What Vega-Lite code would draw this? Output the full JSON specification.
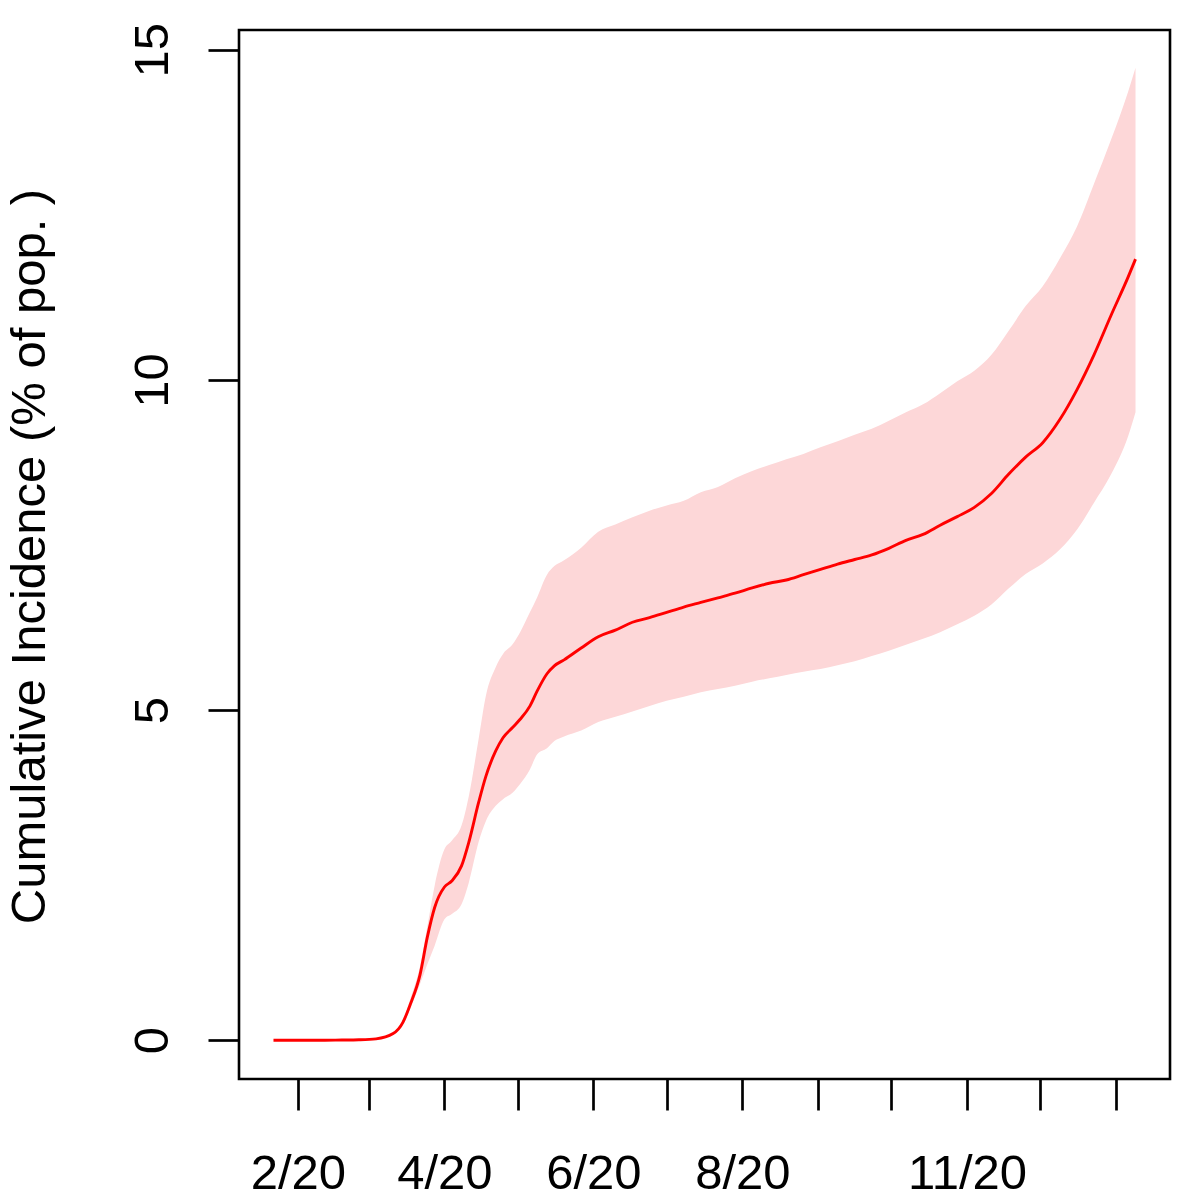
{
  "$schema": "https://vega.github.io/schema/vega-lite/v6.json",
  "width": 931,
  "height": 1049,
  "autosize": {"type": "none"},
  "padding": {"left": 239, "top": 30, "right": 30, "bottom": 121},
  "background": "white",
  "config": {
    "view": {"stroke": "black", "strokeWidth": 2.6},
    "font": "Liberation Sans"
  },
  "data": {
    "values": [
      {"date": "2020-01-22", "mid": 0, "lo": 0, "hi": 0},
      {"date": "2020-01-29", "mid": 0, "lo": 0, "hi": 0},
      {"date": "2020-02-05", "mid": 0, "lo": 0, "hi": 0},
      {"date": "2020-02-12", "mid": 0, "lo": 0, "hi": 0},
      {"date": "2020-02-19", "mid": 0.002, "lo": 0.002, "hi": 0.002},
      {"date": "2020-02-26", "mid": 0.006, "lo": 0.005, "hi": 0.007},
      {"date": "2020-03-04", "mid": 0.02, "lo": 0.015, "hi": 0.025},
      {"date": "2020-03-11", "mid": 0.10, "lo": 0.08, "hi": 0.12},
      {"date": "2020-03-15", "mid": 0.27, "lo": 0.23, "hi": 0.30},
      {"date": "2020-03-18", "mid": 0.54, "lo": 0.48, "hi": 0.62},
      {"date": "2020-03-22", "mid": 0.99, "lo": 0.85, "hi": 1.12},
      {"date": "2020-03-25", "mid": 1.56, "lo": 1.15, "hi": 1.72},
      {"date": "2020-03-28", "mid": 2.01, "lo": 1.43, "hi": 2.34},
      {"date": "2020-04-01", "mid": 2.32, "lo": 1.83, "hi": 2.89},
      {"date": "2020-04-04", "mid": 2.41, "lo": 1.91, "hi": 3.02},
      {"date": "2020-04-08", "mid": 2.64, "lo": 2.06, "hi": 3.25},
      {"date": "2020-04-11", "mid": 3.0, "lo": 2.39, "hi": 3.70},
      {"date": "2020-04-15", "mid": 3.60, "lo": 3.0, "hi": 4.56},
      {"date": "2020-04-18", "mid": 4.0, "lo": 3.32, "hi": 5.22},
      {"date": "2020-04-22", "mid": 4.38, "lo": 3.55, "hi": 5.65},
      {"date": "2020-04-25", "mid": 4.58, "lo": 3.65, "hi": 5.85},
      {"date": "2020-04-29", "mid": 4.74, "lo": 3.75, "hi": 6.0},
      {"date": "2020-05-02", "mid": 4.86, "lo": 3.88, "hi": 6.18},
      {"date": "2020-05-06", "mid": 5.06, "lo": 4.10, "hi": 6.48},
      {"date": "2020-05-09", "mid": 5.29, "lo": 4.33, "hi": 6.71},
      {"date": "2020-05-13", "mid": 5.55, "lo": 4.42, "hi": 7.05},
      {"date": "2020-05-16", "mid": 5.67, "lo": 4.53, "hi": 7.18},
      {"date": "2020-05-20", "mid": 5.76, "lo": 4.60, "hi": 7.27},
      {"date": "2020-05-27", "mid": 5.94, "lo": 4.69, "hi": 7.46},
      {"date": "2020-06-03", "mid": 6.11, "lo": 4.82, "hi": 7.70},
      {"date": "2020-06-10", "mid": 6.21, "lo": 4.90, "hi": 7.81},
      {"date": "2020-06-17", "mid": 6.33, "lo": 4.98, "hi": 7.92},
      {"date": "2020-06-24", "mid": 6.40, "lo": 5.06, "hi": 8.02},
      {"date": "2020-07-01", "mid": 6.48, "lo": 5.14, "hi": 8.10},
      {"date": "2020-07-08", "mid": 6.56, "lo": 5.20, "hi": 8.17},
      {"date": "2020-07-15", "mid": 6.63, "lo": 5.27, "hi": 8.30},
      {"date": "2020-07-22", "mid": 6.70, "lo": 5.32, "hi": 8.38},
      {"date": "2020-07-29", "mid": 6.77, "lo": 5.37, "hi": 8.51},
      {"date": "2020-08-05", "mid": 6.85, "lo": 5.43, "hi": 8.62},
      {"date": "2020-08-12", "mid": 6.92, "lo": 5.48, "hi": 8.71},
      {"date": "2020-08-19", "mid": 6.97, "lo": 5.53, "hi": 8.80},
      {"date": "2020-08-26", "mid": 7.05, "lo": 5.58, "hi": 8.88},
      {"date": "2020-09-02", "mid": 7.13, "lo": 5.62, "hi": 8.98},
      {"date": "2020-09-09", "mid": 7.21, "lo": 5.68, "hi": 9.07},
      {"date": "2020-09-16", "mid": 7.28, "lo": 5.74, "hi": 9.17},
      {"date": "2020-09-23", "mid": 7.35, "lo": 5.82, "hi": 9.26},
      {"date": "2020-09-30", "mid": 7.45, "lo": 5.90, "hi": 9.38},
      {"date": "2020-10-07", "mid": 7.57, "lo": 5.99, "hi": 9.51},
      {"date": "2020-10-14", "mid": 7.66, "lo": 6.08, "hi": 9.63},
      {"date": "2020-10-21", "mid": 7.80, "lo": 6.18, "hi": 9.80},
      {"date": "2020-10-28", "mid": 7.93, "lo": 6.30, "hi": 9.98},
      {"date": "2020-11-04", "mid": 8.07, "lo": 6.43, "hi": 10.14},
      {"date": "2020-11-11", "mid": 8.28, "lo": 6.60, "hi": 10.38},
      {"date": "2020-11-18", "mid": 8.57, "lo": 6.84, "hi": 10.74},
      {"date": "2020-11-25", "mid": 8.83, "lo": 7.06, "hi": 11.12},
      {"date": "2020-12-02", "mid": 9.05, "lo": 7.22, "hi": 11.42},
      {"date": "2020-12-09", "mid": 9.40, "lo": 7.43, "hi": 11.84},
      {"date": "2020-12-16", "mid": 9.85, "lo": 7.73, "hi": 12.32},
      {"date": "2020-12-23", "mid": 10.38, "lo": 8.14, "hi": 12.97},
      {"date": "2020-12-30", "mid": 10.98, "lo": 8.57, "hi": 13.64},
      {"date": "2021-01-06", "mid": 11.56, "lo": 9.15, "hi": 14.37},
      {"date": "2021-01-09", "mid": 11.83, "lo": 9.51, "hi": 14.73}
    ]
  },
  "encoding": {
    "x": {
      "field": "date",
      "type": "temporal",
      "scale": {
        "type": "utc",
        "domain": [
          {"year": 2020, "month": 1, "date": 7, "hours": 21, "minutes": 7, "utc": true},
          {"year": 2021, "month": 1, "date": 23, "hours": 2, "minutes": 53, "utc": true}
        ]
      },
      "axis": {
        "title": null,
        "domain": false,
        "grid": false,
        "values": [
          {"year": 2020, "month": 2, "date": 1, "utc": true},
          {"year": 2020, "month": 3, "date": 1, "utc": true},
          {"year": 2020, "month": 4, "date": 1, "utc": true},
          {"year": 2020, "month": 5, "date": 1, "utc": true},
          {"year": 2020, "month": 6, "date": 1, "utc": true},
          {"year": 2020, "month": 7, "date": 1, "utc": true},
          {"year": 2020, "month": 8, "date": 1, "utc": true},
          {"year": 2020, "month": 9, "date": 1, "utc": true},
          {"year": 2020, "month": 10, "date": 1, "utc": true},
          {"year": 2020, "month": 11, "date": 1, "utc": true},
          {"year": 2020, "month": 12, "date": 1, "utc": true},
          {"year": 2021, "month": 1, "date": 1, "utc": true}
        ],
        "labelExpr": "utcyear(datum.value) == 2020 && (utcmonth(datum.value) == 1 || utcmonth(datum.value) == 3 || utcmonth(datum.value) == 5 || utcmonth(datum.value) == 7 || utcmonth(datum.value) == 10) ? utcFormat(datum.value, '%-m/%y') : ''",
        "labelOverlap": false,
        "labelFlush": false,
        "labelBound": false,
        "tickSize": 31,
        "tickWidth": 2.7,
        "tickColor": "black",
        "labelFontSize": 49,
        "labelColor": "black",
        "labelFont": "Liberation Sans",
        "labelBaseline": "alphabetic",
        "labelPadding": 78
      }
    }
  },
  "layer": [
    {
      "mark": {"type": "area", "color": "#fdd7d8", "opacity": 1, "interpolate": "monotone"},
      "encoding": {
        "y": {
          "field": "lo",
          "type": "quantitative",
          "scale": {"domain": [-0.588, 15.30], "nice": false, "zero": false},
          "axis": {
            "title": "Cumulative Incidence (% of pop. )",
            "values": [0, 5, 10, 15],
            "format": "d",
            "domain": false,
            "grid": false,
            "tickSize": 31,
            "tickWidth": 2.7,
            "tickColor": "black",
            "labelAngle": 270,
            "labelAlign": "center",
            "labelBaseline": "alphabetic",
            "labelPadding": 41,
            "labelFontSize": 49,
            "labelColor": "black",
            "labelFont": "Liberation Sans",
            "labelFlush": false,
            "labelOverlap": false,
            "titleFont": "Liberation Sans",
            "titleFontSize": 49,
            "titleFontWeight": "normal",
            "titleColor": "black",
            "titleAngle": 270,
            "titleAlign": "center",
            "titleBaseline": "alphabetic",
            "titleX": -195,
            "titleY": 526
          }
        },
        "y2": {"field": "hi"}
      }
    },
    {
      "mark": {"type": "line", "color": "#ff0000", "strokeWidth": 2.9, "interpolate": "monotone"},
      "encoding": {
        "y": {"field": "mid", "type": "quantitative"}
      }
    }
  ]
}
